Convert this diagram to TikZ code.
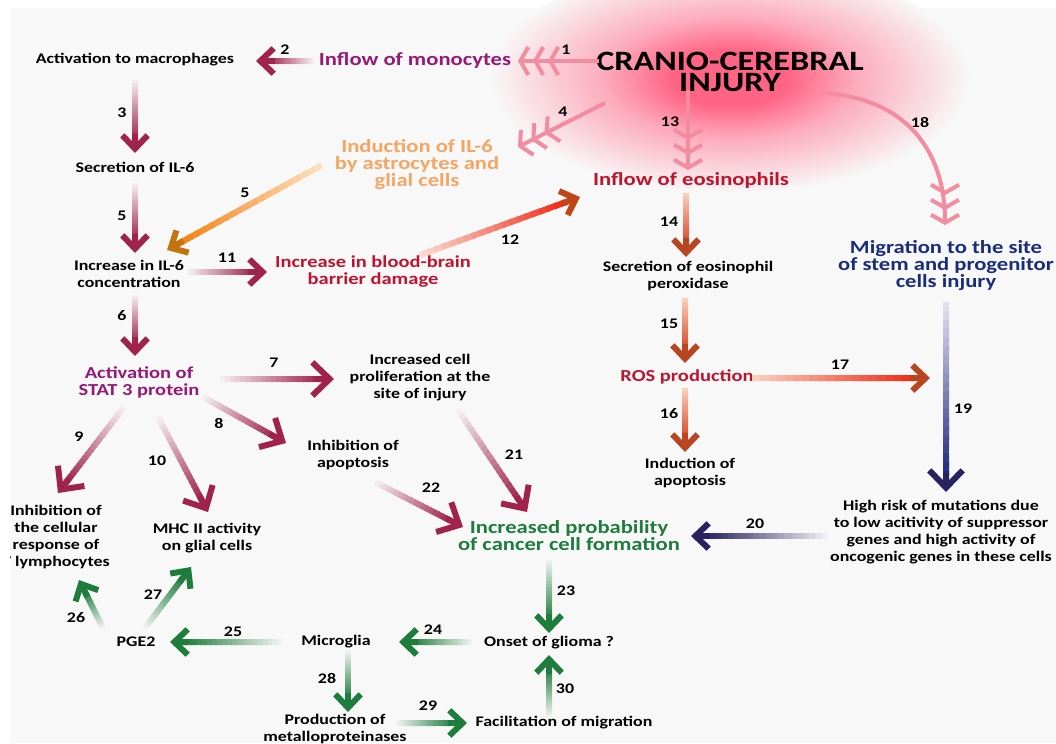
\documentclass[tikz,border=0pt]{standalone}
\usepackage{fontspec}
\setmainfont{Carlito}[FakeStretch=1.22]
\usetikzlibrary{arrows.meta,calc}
\lineskiplimit=-20pt

\definecolor{bgc}{RGB}{248,248,248}
\definecolor{glowin}{RGB}{255,100,132}
\definecolor{glowmid}{RGB}{252,170,188}
\definecolor{pinkc}{RGB}{244,140,160}
\definecolor{mar}{RGB}{160,35,78}
\definecolor{grn}{RGB}{30,125,60}
\definecolor{purp}{RGB}{150,25,120}
\definecolor{orng}{RGB}{245,165,100}
\definecolor{crim}{RGB}{190,20,45}
\definecolor{navy}{RGB}{25,45,125}
\definecolor{navyb}{RGB}{30,40,125}
\definecolor{navyd}{RGB}{40,35,95}
\definecolor{navtail}{RGB}{235,232,245}
\definecolor{ored}{RGB}{215,70,40}
\definecolor{oredh}{RGB}{185,70,35}
\definecolor{otail}{RGB}{250,215,195}
\definecolor{redb}{RGB}{240,40,20}
\definecolor{redbh}{RGB}{190,70,25}
\definecolor{redtail}{RGB}{252,225,215}
\definecolor{orgb}{RGB}{245,130,20}
\definecolor{orgbh}{RGB}{195,115,15}
\definecolor{orgtail}{RGB}{252,228,200}

\pgfdeclareradialshading{glow}{\pgfpoint{0bp}{0bp}}{color(0bp)=(glowin); color(6bp)=(glowin); color(13bp)=(glowmid); color(25bp)=(bgc); color(50bp)=(bgc)}

% fading arrow: [head style]{from}{to}{tail colour}{shaft colour}{head colour}
\newcommand\garrow[6][]{%
  \path #2 coordinate (ga) #3 coordinate (gb);
  \path ($(gb)!9pt!(ga)$) coordinate (gc);
  \foreach \k in {1,...,20}{%
    \pgfmathsetmacro\pa{(\k-1)/20}%
    \pgfmathsetmacro\pb{min(1,(\k+0.5)/20)}%
    \pgfmathtruncatemacro\pc{100*\k/20}%
    \draw[fshaft, #5!\pc!#4] ($(ga)!\pa!(gc)$) -- ($(ga)!\pb!(gc)$);
  }
  \draw[fshaft, #6, headtip, #1] ($(gb)!14pt!(ga)$) -- (gb);
}

\begin{document}
\begin{tikzpicture}[x=0.75pt,y=-0.75pt,
  txt/.style={font=\bfseries\fontsize{11}{12.75}\selectfont, align=center, inner sep=0pt},
  hd/.style={font=\bfseries\fontsize{13.9}{12.75}\selectfont, align=center, inner sep=0pt},
  hds/.style={font=\bfseries\fontsize{12.6}{12.75}\selectfont, align=center, inner sep=0pt},
  ttl/.style={font=\bfseries\fontsize{21}{15.75}\selectfont, align=center, inner sep=0pt},
  num/.style={font=\bfseries\fontsize{11}{12}\selectfont, inner sep=0pt},
  fshaft/.style={line width=4.5pt},
  headtip/.style={-{Straight Barb[length=10pt,width=19pt]}},
  bigtip/.style={-{Straight Barb[length=13pt,width=25pt]}},
  trihead/.style={line width=3pt, pinkc,
    -{Straight Barb[length=6pt,width=21pt,sep=2pt] Straight Barb[length=6pt,width=21pt,sep=2pt] Straight Barb[length=6pt,width=21pt]}}]
\useasboundingbox (0,0) rectangle (1056,743);
\fill[white] (0,0) rectangle (1056,743);
\fill[bgc] (10,8) rectangle (1056,743);
\shade[shading=glow] (730,78) ellipse [x radius=240, y radius=115];

\begin{scope}
\clip (10,-20) rectangle (1070,760);
% boxes
\node[ttl] (inj) at (730,72) {CRANIO-CEREBRAL\\INJURY};
\node[txt] (mac) at (135,60) {Activation to macrophages};
\node[hd, text=purp] (mono) at (415,60) {Inflow of monocytes};
\node[hd, text=orng] (il6) at (417,165) {Induction of IL-6\\by astrocytes and\\glial cells};
\node[txt] (secil) at (135,167) {Secretion of IL-6};
\node[hd, text=crim] (eos) at (691,180) {Inflow of eosinophils};
\node[txt] (incil) at (129,274) {Increase in IL-6\\concentration};
\node[hds, text=crim] (bbb) at (373,272) {Increase in blood-brain\\barrier damage};
\node[txt] (sep) at (688,276) {Secretion of eosinophil\\peroxidase};
\node[hd, text=navy] (mig) at (946,266) {Migration to the site\\of stem and progenitor\\cells injury};
\node[hds, text=purp] (stat) at (139,382) {Activation of\\STAT 3 protein};
\node[txt] (prol) at (420,378) {Increased cell\\proliferation at the\\site of injury};
\node[hds, text=crim] (ros) at (687,377) {ROS production};
\node[txt] (inhap) at (353,455) {Inhibition of\\apoptosis};
\node[txt] (indap) at (690,473) {Induction of\\apoptosis};
\node[txt] (risk) at (941,532) {High risk of mutations due\\to low acitivity of suppressor\\genes and high activity of\\oncogenic genes in these cells};
\node[hd, text=grn] (prob) at (569,536) {Increased probability\\of cancer cell formation};
\node[txt] (inht) at (56,537) {Inhibition of\\the cellular\\response of\\T lymphocytes};
\node[txt] (mhc) at (207,538) {MHC II activity\\on glial cells};
\node[txt] (pge) at (136,642) {PGE2};
\node[txt] (micro) at (336,642) {Microglia};
\node[txt] (glio) at (549,643) {Onset of glioma ?};
\node[txt] (facil) at (564,723) {Facilitation of migration};
\node[txt] (mmp) at (335,729) {Production of\\metalloproteinases};

% numbers
\node[num] (l1) at (566,50) {1};
\node[num] (l2) at (285,50) {2};
\node[num] (l3) at (122,113) {3};
\node[num] (l4) at (563,112) {4};
\node[num] (l5a) at (122,216) {5};
\node[num] (l5b) at (245,193) {5};
\node[num] (l6) at (122,316) {6};
\node[num] (l7) at (274,363) {7};
\node[num] (l8) at (219,423) {8};
\node[num] (l9) at (79,437) {9};
\node[num] (l10) at (157,461) {10};
\node[num] (l11) at (227,258) {11};
\node[num] (l12) at (510,240) {12};
\node[num] (l13) at (670,122) {13};
\node[num] (l14) at (669,222) {14};
\node[num] (l15) at (669,324) {15};
\node[num] (l16) at (669,414) {16};
\node[num] (l17) at (840,365) {17};
\node[num] (l18) at (920,122) {18};
\node[num] (l19) at (963,409) {19};
\node[num] (l20) at (755,524) {20};
\node[num] (l21) at (514,455) {21};
\node[num] (l22) at (431,488) {22};
\node[num] (l23) at (566,591) {23};
\node[num] (l24) at (433,630) {24};
\node[num] (l25) at (233,632) {25};
\node[num] (l26) at (76,618) {26};
\node[num] (l27) at (153,595) {27};
\node[num] (l28) at (327,678) {28};
\node[num] (l29) at (428,706) {29};
\node[num] (l30) at (565,689) {30};

% from the injury
\draw[trihead] ($(inj)+(-131,-11)$) -- ($(mono)+(103,1)$);
\draw[trihead] ($(inj)+(-125,31)$) -- ($(il6)+(101,-18)$);
\draw[trihead] ($(inj)+(-42,18)$) -- ($(eos)+(-3,-10)$);
\draw[trihead] ($(inj)+(91,21)$) .. controls ($(inj)+(175,25)$) and ($(mig)+(-1,-116)$) .. ($(mig)+(-1,-41)$);

% left column
\garrow{($(mono)+(-101,1)$)}{($(mac)+(121,1)$)}{bgc}{mar}{mar}
\garrow{($(mac)+(0,20)$)}{($(secil)+(0,-14)$)}{bgc}{mar}{mar}
\garrow{($(secil)+(0,16)$)}{($(incil)+(6,-21)$)}{bgc}{mar}{mar}
\garrow{($(il6)+(-95,0)$)}{($(incil)+(38,-24)$)}{orgtail}{orgb}{orgbh}
\garrow{($(incil)+(59,-2)$)}{($(bbb)+(-106,0)$)}{bgc}{mar}{mar}
\garrow{($(bbb)+(47,-17)$)}{($(eos)+(-111,17)$)}{redtail}{redb}{redbh}
\garrow{($(incil)+(6,21)$)}{($(stat)+(-4,-26)$)}{bgc}{mar}{mar}
\garrow[bigtip]{($(stat)+(81,-3)$)}{($(prol)+(-86,1)$)}{bgc}{mar}{mar}
\garrow[bigtip]{($(stat)+(64,15)$)}{($(inhap)+(-67,-12)$)}{bgc}{mar}{mar}
\garrow[bigtip]{($(stat)+(-15,25)$)}{($(inht)+(2,-44)$)}{bgc}{mar}{mar}
\garrow[bigtip]{($(stat)+(19,35)$)}{($(mhc)+(1,-26)$)}{bgc}{mar}{mar}
\garrow[bigtip]{($(prol)+(38,32)$)}{($(prob)+(-42,-24)$)}{bgc}{mar}{mar}
\garrow[bigtip]{($(inhap)+(22,27)$)}{($(prob)+(-106,-9)$)}{bgc}{mar}{mar}

% eosinophil column
\garrow{($(eos)+(-5,13)$)}{($(sep)+(-2,-19)$)}{otail}{ored}{oredh}
\garrow{($(sep)+(-3,22)$)}{($(ros)+(-2,-14)$)}{otail}{ored}{oredh}
\garrow{($(ros)+(-2,11)$)}{($(indap)+(-5,-21)$)}{otail}{ored}{oredh}
\garrow{($(ros)+(65,1)$)}{($(mig |- ros)+(-16,1)$)}{otail}{redb}{oredh}

% stem cells
\garrow[bigtip]{($(mig)+(0,36)$)}{($(risk)+(5,-40)$)}{navtail}{navyb}{navyd}
\garrow{($(risk)+(-113,4)$)}{($(prob)+(122,0)$)}{bgc}{navyd}{navyd}

% glioma
\garrow{($(prob)+(-20,24)$)}{($(glio)+(0,-10)$)}{bgc}{grn}{grn}
\garrow{($(glio)+(-77,-1)$)}{($(micro)+(63,0)$)}{bgc}{grn}{grn}
\garrow{($(micro)+(-54,0)$)}{($(pge)+(34,0)$)}{bgc}{grn}{grn}
\garrow{($(pge)+(-33,-14)$)}{($(inht)+(23,43)$)}{bgc}{grn}{grn}
\garrow{($(pge)+(9,-14)$)}{($(mhc)+(-16,29)$)}{bgc}{grn}{grn}
\garrow{($(micro)+(12,8)$)}{($(mmp)+(13,-17)$)}{bgc}{grn}{grn}
\garrow{($(mmp)+(61,-6)$)}{($(facil)+(-97,0)$)}{bgc}{grn}{grn}
\garrow{($(facil)+(-15,-6)$)}{($(glio)+(0,12)$)}{bgc}{grn}{grn}
\end{scope}
\end{tikzpicture}
\end{document}
